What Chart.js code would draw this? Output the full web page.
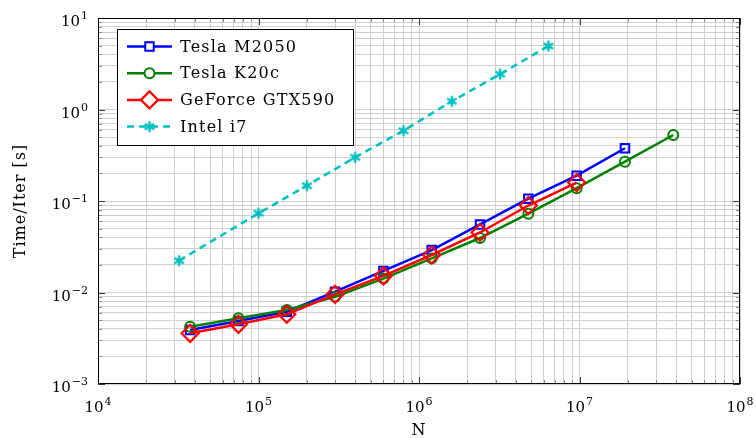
<!DOCTYPE html>
<html>
<head>
<meta charset="utf-8">
<script src="https://cdn.jsdelivr.net/npm/chart.js@4"></script>
<style>body{margin:0;background:#fff}canvas{display:block}</style>
</head>
<body>
<canvas id="myChart" width="756" height="438"></canvas>
<script>
const ctx = document.getElementById("myChart").getContext("2d");

// data
const names = ['Tesla M2050', 'Tesla K20c', 'GeForce GTX590', 'Intel i7'];
const gpuN = [37500, 75000, 150000, 300000, 600000, 1200000, 2400000, 4800000, 9600000, 19200000, 38400000];
const cpuN = [32000, 100000, 200000, 400000, 800000, 1600000, 3200000, 6400000];
const m2050 = [0.00389, 0.00489, 0.00617, 0.0102, 0.0172, 0.0291, 0.0554, 0.106, 0.189, 0.377];
const k20c = [0.00423, 0.00522, 0.00644, 0.0090, 0.0142, 0.0236, 0.0394, 0.0726, 0.138, 0.269, 0.526];
const gtx590 = [0.00358, 0.00449, 0.00578, 0.00955, 0.0152, 0.0257, 0.0453, 0.0893, 0.159];
const inteli7 = [0.0223, 0.0734, 0.147, 0.300, 0.586, 1.23, 2.43, 4.94];

const xExp = [4, 5, 6, 7, 8];
const yExp = [-3, -2, -1, 0, 1];

const pts = (xs, ys) => ys.map((v, i) => ({x: xs[i], y: v}));

// minor grid: 1..9 x 10^n inside each decade
function logTicks(exps) {
  const out = [];
  for (let i = 0; i < exps.length - 1; i++)
    for (let k = 1; k < 10; k++) out.push({value: k * Math.pow(10, exps[i])});
  out.push({value: Math.pow(10, exps[exps.length - 1])});
  return out;
}

// asterisk marker like pgfplots
const star = document.createElement('canvas');
star.width = star.height = 14;
{
  const sc = star.getContext('2d');
  sc.strokeStyle = '#00bfbf';
  sc.lineWidth = 2.4;
  for (let i = 0; i < 3; i++) {
    const a = Math.PI / 2 + i * Math.PI / 3;
    sc.beginPath();
    sc.moveTo(7 + 5.5 * Math.cos(a), 7 + 5.5 * Math.sin(a));
    sc.lineTo(7 - 5.5 * Math.cos(a), 7 - 5.5 * Math.sin(a));
    sc.stroke();
  }
}

const series = [
  {label: names[0], data: pts(gpuN, m2050), borderColor: '#0000ff', pointStyle: 'rect', pointRadius: 6, pointBorderWidth: 2, order: 4},
  {label: names[1], data: pts(gpuN, k20c), borderColor: '#008000', pointStyle: 'circle', pointRadius: 5, pointBorderWidth: 2, order: 3},
  {label: names[2], data: pts(gpuN, gtx590), borderColor: '#ff0000', pointStyle: 'rectRot', pointRadius: 8.5, pointBorderWidth: 2.2, order: 2},
  {label: names[3], data: pts(cpuN, inteli7), borderColor: '#00bfbf', pointStyle: star, pointRadius: 7, pointBorderWidth: 2, borderDash: [7, 5], order: 1},
];
series.forEach(s => {
  s.borderWidth = 2.5;
  s.pointBorderColor = s.borderColor;
  s.pointBackgroundColor = 'rgba(0,0,0,0)';
  s.tension = 0;
  s.fill = false;
});

const SERIF = '"DejaVu Serif"';
const isPow = v => Math.abs(Math.log10(v) - Math.round(Math.log10(v))) < 1e-9;

function pow10(c, x, y, e, align) {
  const base = '10', ex = String(e).replace('-', '\u2212');
  c.font = '15px ' + SERIF;
  const wb = c.measureText(base).width;
  c.font = '11px ' + SERIF;
  const we = c.measureText(ex).width;
  const left = align === 'right' ? x - wb - we - 1 : x - (wb + we + 1) / 2;
  c.textAlign = 'left';
  c.textBaseline = 'alphabetic';
  c.font = '15px ' + SERIF;
  c.fillText(base, left, y);
  c.font = '11px ' + SERIF;
  c.fillText(ex, left + wb + 1, y - 7);
}

const decor = {
  id: 'decor',
  afterDraw(chart) {
    const c = chart.ctx, a = chart.chartArea, xs = chart.scales.x, ys = chart.scales.y;
    c.save();
    c.lineWidth = 1;
    // inner tick marks on all four sides
    xs.ticks.forEach(t => {
      const p = Math.round(xs.getPixelForValue(t.value)) + 0.5;
      const len = isPow(t.value) ? 7 : 4;
      c.strokeStyle = isPow(t.value) ? '#333' : '#888';
      c.beginPath();
      c.moveTo(p, a.bottom); c.lineTo(p, a.bottom - len);
      c.moveTo(p, a.top); c.lineTo(p, a.top + len);
      c.stroke();
    });
    ys.ticks.forEach(t => {
      const p = Math.round(ys.getPixelForValue(t.value)) + 0.5;
      const len = isPow(t.value) ? 7 : 4;
      c.strokeStyle = isPow(t.value) ? '#333' : '#888';
      c.beginPath();
      c.moveTo(a.left, p); c.lineTo(a.left + len, p);
      c.moveTo(a.right, p); c.lineTo(a.right - len, p);
      c.stroke();
    });
    c.strokeStyle = '#000';
    c.strokeRect(a.left + 0.5, a.top + 0.5, a.right - a.left - 1, a.bottom - a.top - 1);

    // tick labels
    c.fillStyle = '#000';
    xExp.forEach(e => pow10(c, xs.getPixelForValue(Math.pow(10, e)), a.bottom + 28, e, 'center'));
    yExp.forEach(e => pow10(c, a.left - 10, ys.getPixelForValue(Math.pow(10, e)) + 8, e, 'right'));

    // axis titles
    c.font = '16px ' + SERIF;
    c.letterSpacing = '1px';
    c.textAlign = 'center';
    c.textBaseline = 'middle';
    c.fillText('N', (a.left + a.right) / 2, 431);
    c.save();
    c.translate(21, (a.top + a.bottom) / 2);
    c.rotate(-Math.PI / 2);
    c.fillText('Time/Iter [s]', 0, 0);
    c.restore();

    // legend
    const lx = 117, ly = 29, lw = 237, lh = 117;
    c.fillStyle = '#fff';
    c.fillRect(lx, ly, lw, lh);
    c.strokeStyle = '#000';
    c.strokeRect(lx + 0.5, ly + 0.5, lw - 1, lh - 1);
    chart.data.datasets.forEach((d, i) => {
      const y = ly + 17.5 + i * 26.7;
      c.save();
      c.strokeStyle = d.borderColor;
      c.lineWidth = d.borderWidth;
      c.setLineDash(d.borderDash || []);
      c.beginPath();
      c.moveTo(127, y); c.lineTo(172, y);
      c.stroke();
      c.setLineDash([]);
      c.fillStyle = '#fff';
      c.lineWidth = d.pointBorderWidth;
      Chart.helpers.drawPoint(c, {
        pointStyle: d.pointStyle, radius: d.pointRadius, borderWidth: d.pointBorderWidth, rotation: 0
      }, 149.5, y);
      c.restore();
      c.fillStyle = '#000';
      c.font = '16px ' + SERIF;
      c.letterSpacing = '1.2px';
      c.textAlign = 'left';
      c.textBaseline = 'middle';
      c.fillText(d.label, 180, y + 1);
    });
    c.restore();
  }
};

const myChart = new Chart(ctx, {
  type: 'line',
  data: {datasets: series},
  options: {
    responsive: false,
    animation: false,
    devicePixelRatio: 1,
    layout: {padding: {left: 98, right: 16, top: 18, bottom: 54}},
    plugins: {legend: {display: false}, tooltip: {enabled: false}},
    scales: {
      x: {
        type: 'logarithmic', min: 1e4, max: 1e8,
        afterBuildTicks: s => { s.ticks = logTicks(xExp); },
        afterFit: s => { s.height = 0; },
        ticks: {display: false},
        grid: {color: '#cfcfcf', lineWidth: 1, drawTicks: false},
        border: {display: false}
      },
      y: {
        type: 'logarithmic', min: 1e-3, max: 1e1,
        afterBuildTicks: s => { s.ticks = logTicks(yExp); },
        afterFit: s => { s.width = 0; },
        ticks: {display: false},
        grid: {color: '#cfcfcf', lineWidth: 1, drawTicks: false},
        border: {display: false}
      }
    }
  },
  plugins: [decor]
});
</script>
</body>
</html>
